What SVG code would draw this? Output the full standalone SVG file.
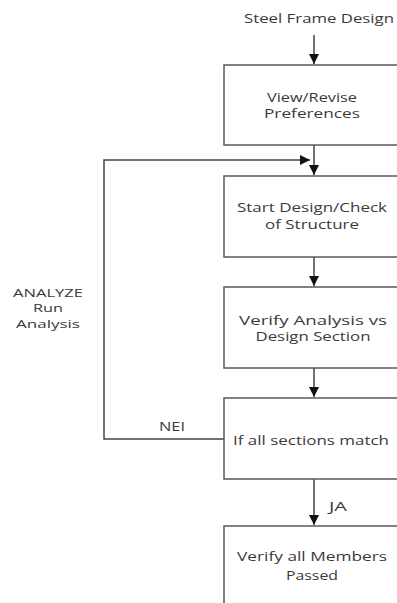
<svg xmlns="http://www.w3.org/2000/svg" width="397" height="603" viewBox="0 0 397 603">
  <style>
    .box { fill: #ffffff; stroke: #5a5a5a; stroke-width: 1.5; }
    .edge { fill: none; stroke: #444444; stroke-width: 1.5; }
    .lbl { font-family: "Open Sans", "DejaVu Sans", sans-serif; font-size: 12px; fill: #3a3a3a; text-anchor: middle; }
    .side { font-size: 11px; }
  </style>
  <defs>
    <marker id="arrow" viewBox="0 0 10 10" refX="10" refY="5" markerWidth="10" markerHeight="10" markerUnits="userSpaceOnUse" orient="auto">
      <path d="M0,0 L10,5 L0,10 Z" fill="#111111"/>
    </marker>
  </defs>
  <rect width="397" height="603" fill="#ffffff"/>

  <text class="lbl" x="319" y="23" textLength="150" lengthAdjust="spacingAndGlyphs">Steel Frame Design</text>

  <g id="connectors">
    <line class="edge" x1="314" y1="35" x2="314" y2="64" marker-end="url(#arrow)"/>
    <line class="edge" x1="314" y1="145" x2="314" y2="175" marker-end="url(#arrow)"/>
    <polyline class="edge" points="224,439 104,439 104,160 310,160" marker-end="url(#arrow)"/>
    <line class="edge" x1="314" y1="257" x2="314" y2="286" marker-end="url(#arrow)"/>
    <line class="edge" x1="314" y1="368" x2="314" y2="397" marker-end="url(#arrow)"/>
    <line class="edge" x1="314" y1="479" x2="314" y2="525" marker-end="url(#arrow)"/>
  </g>

  <g id="n-preferences">
    <rect class="box" x="224" y="65" width="190" height="80"/>
    <text class="lbl" x="312" y="102" textLength="90" lengthAdjust="spacingAndGlyphs">View/Revise</text>
    <text class="lbl" x="312" y="118" textLength="96" lengthAdjust="spacingAndGlyphs">Preferences</text>
  </g>

  <g id="n-start">
    <rect class="box" x="224" y="176" width="190" height="81"/>
    <text class="lbl" x="312" y="212" textLength="150" lengthAdjust="spacingAndGlyphs">Start Design/Check</text>
    <text class="lbl" x="312" y="229" textLength="94" lengthAdjust="spacingAndGlyphs">of Structure</text>
  </g>

  <g id="n-verify-analysis">
    <rect class="box" x="224" y="287" width="190" height="81"/>
    <text class="lbl" x="313" y="325" textLength="148" lengthAdjust="spacingAndGlyphs">Verify Analysis vs</text>
    <text class="lbl" x="313" y="341" textLength="115" lengthAdjust="spacingAndGlyphs">Design Section</text>
  </g>

  <g id="n-match">
    <rect class="box" x="224" y="398" width="190" height="81"/>
    <text class="lbl" x="311" y="445" textLength="156" lengthAdjust="spacingAndGlyphs">If all sections match</text>
  </g>

  <g id="n-members">
    <rect class="box" x="224" y="526" width="190" height="90"/>
    <text class="lbl" x="312" y="561" textLength="150" lengthAdjust="spacingAndGlyphs">Verify all Members</text>
    <text class="lbl" x="312" y="580" textLength="52" lengthAdjust="spacingAndGlyphs">Passed</text>
  </g>

  <g id="edge-labels">
    <text class="lbl side" x="48" y="297" textLength="70" lengthAdjust="spacingAndGlyphs">ANALYZE</text>
    <text class="lbl side" x="48" y="312" textLength="30" lengthAdjust="spacingAndGlyphs">Run</text>
    <text class="lbl side" x="48" y="328" textLength="64" lengthAdjust="spacingAndGlyphs">Analysis</text>
    <text class="lbl" x="172" y="431" textLength="26" lengthAdjust="spacingAndGlyphs">NEI</text>
    <text class="lbl" x="338" y="511" textLength="18" lengthAdjust="spacingAndGlyphs">JA</text>
  </g>
</svg>
